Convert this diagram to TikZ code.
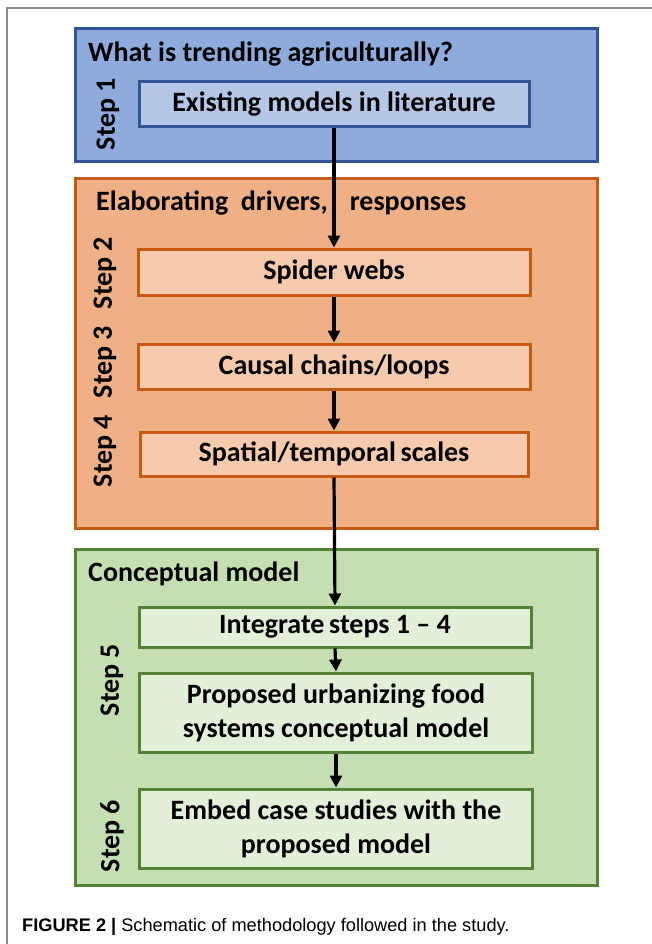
\documentclass[tikz,border=0pt]{standalone}
\usepackage{fontspec}
\setmainfont{Carlito}
\newfontfamily\capfont{Liberation Sans}
\usetikzlibrary{arrows.meta}
\definecolor{bluefill}{HTML}{8FAADC}
\definecolor{blueline}{HTML}{2F5597}
\definecolor{blueinner}{HTML}{B4C7E7}
\definecolor{orfill}{HTML}{F0B085}
\definecolor{orline}{HTML}{C55A11}
\definecolor{orinner}{HTML}{F6CAAC}
\definecolor{grfill}{HTML}{C5DFB3}
\definecolor{grline}{HTML}{548235}
\definecolor{grinner}{HTML}{E2EFD9}
\definecolor{framegray}{HTML}{8C8C8C}
\begin{document}
\begin{tikzpicture}[x=1pt,y=-1pt,
  bigfont/.style={font=\fontsize{28}{34}\selectfont\bfseries},
  groupbox/.style={line width=3pt, anchor=north west, inner sep=0pt},
  stepbox/.style={line width=3pt, inner sep=0pt, align=center, bigfont},
  steplabel/.style={rotate=90, bigfont, inner sep=0pt},
  grouptitle/.style={anchor=base west, bigfont, inner sep=0pt},
  flow/.style={line width=3.2pt, -{Triangle[length=12pt,width=12pt]}}]
\useasboundingbox (0,0) rectangle (652,944);
\fill[white] (0,0) rectangle (652,944);
\draw[framegray, line width=1.5pt] (7,944) -- (7,8) -- (652,8);

% group boxes
\node[groupbox, fill=bluefill, draw=blueline, minimum width=522pt, minimum height=133pt] (g1) at (74,27) {};
\node[groupbox, fill=orfill, draw=orline, minimum width=522pt, minimum height=350pt] (g2) at (74,177) {};
\node[groupbox, fill=grfill, draw=grline, minimum width=522pt, minimum height=336pt] (g3) at (74,548) {};

% titles
\node[grouptitle] (t1) at (88,62) {What is trending agriculturally?};
\node[grouptitle] (t2) at (96,210) {Elaborating\ \ drivers,\hspace{22pt}responses};
\node[grouptitle] (t3) at (88,581) {Conceptual model};

% step boxes
\node[stepbox, fill=blueinner, draw=blueline, minimum width=390pt, minimum height=45pt] (s1) at (334,104.5) {Existing models in literature};
\node[stepbox, fill=orinner, draw=orline, minimum width=392pt, minimum height=46pt] (s2) at (334,272) {Spider webs};
\node[stepbox, fill=orinner, draw=orline, minimum width=392pt, minimum height=45pt] (s3) at (334,366.5) {Causal chains/loops};
\node[stepbox, fill=orinner, draw=orline, minimum width=388pt, minimum height=44pt] (s4) at (334,454) {Spatial/temporal\,scales};
\node[stepbox, fill=grinner, draw=grline, minimum width=392pt, minimum height=40pt] (s5) at (335,627) {Integrate\,steps 1 -- 4};
\node[stepbox, fill=grinner, draw=grline, minimum width=393pt, minimum height=79pt] (s6) at (336,712.5) {Proposed urbanizing food\\systems conceptual model};
\node[stepbox, fill=grinner, draw=grline, minimum width=393pt, minimum height=79pt] (s7) at (336,828.5) {Embed case studies with the\\proposed model};

% step labels
\node[steplabel] (l1) at (108,114) {Step 1};
\node[steplabel] (l2) at (105,273) {Step 2};
\node[steplabel] (l3) at (105,362) {Step 3};
\node[steplabel] (l4) at (105,451) {Step 4};
\node[steplabel] (l5) at (112,680) {Step 5};
\node[steplabel] (l6) at (112,836) {Step 6};

% connectors
\draw[flow] (s1.south) -- (s2.north);
\draw[flow] (s2.south) -- (s3.north);
\draw[flow] (s3.south) -- (s4.north);
\draw[flow] (s4.south) -- (s5.north);
\draw[flow] (s5.south) -- (s6.north);
\draw[flow] (s6.south) -- (s7.north);

% caption
\node[anchor=base west, inner sep=0pt, font=\capfont\fontsize{18.2}{21}\selectfont] (cap) at (22,931) {\textbf{FIGURE 2 |} Schematic of methodology followed in the study.};
\end{tikzpicture}
\end{document}
